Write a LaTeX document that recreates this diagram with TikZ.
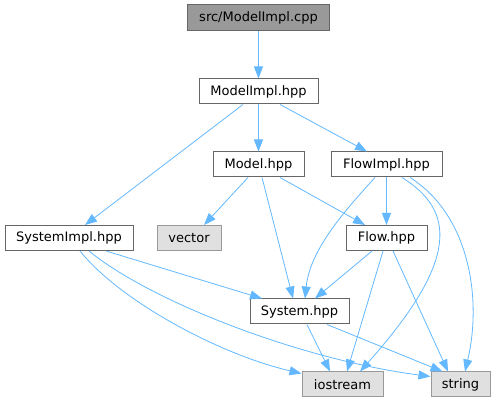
\documentclass[tikz,border=0pt]{standalone}
\usepackage{fontspec}
\setmainfont{DejaVu Sans}
\usetikzlibrary{arrows.meta}
\definecolor{edgeblue}{HTML}{63B8FF}
\definecolor{boxline}{HTML}{666666}
\definecolor{extline}{HTML}{999999}
\definecolor{rootfill}{HTML}{999999}
\definecolor{extfill}{HTML}{E0E0E0}
\tikzset{
  filebox/.style={draw=boxline, line width=1pt, fill=white, inner sep=0pt,
    minimum height=25pt, font=\fontsize{13}{15}\selectfont, text=black},
  rootbox/.style={filebox, fill=rootfill, minimum height=26pt},
  extbox/.style={filebox, draw=extline, fill=extfill},
  dep/.style={draw=edgeblue, line width=0.8pt, -{Triangle[length=12pt,width=9pt]}},
}
\begin{document}
\begin{tikzpicture}[x=1pt,y=-1pt]
\useasboundingbox (0,0) rectangle (496,403);
\node[rootbox, minimum width=142pt] (cpp) at (258.5,18) {src/ModelImpl.cpp};
\node[filebox, minimum width=119pt] (mih) at (258.5,91.5) {ModelImpl.hpp};
\node[filebox, minimum width=91pt] (mh) at (258.5,164.5) {Model.hpp};
\node[filebox, minimum width=111pt] (fih) at (386.5,164.5) {FlowImpl.hpp};
\node[filebox, minimum width=128pt] (sih) at (69,238) {SystemImpl.hpp};
\node[extbox, minimum width=64pt] (vec) at (189,238) {vector};
\node[filebox, minimum width=81pt] (fh) at (386.5,238) {Flow.hpp};
\node[filebox, minimum width=99pt] (sh) at (299.5,311.5) {System.hpp};
\node[extbox, minimum width=81pt] (io) at (342.5,384.5) {iostream};
\node[extbox, minimum width=59pt] (str) at (460.5,384.5) {string};

% edges
\draw[dep] (cpp.south) -- (mih.north);
\draw[dep] ([xshift=-15.5pt]mih.south) -- ([xshift=16pt]sih.north);
\draw[dep] (mih.south) -- (mh.north);
\draw[dep] ([xshift=21.5pt]mih.south) -- ([xshift=-19.5pt]fih.north);
\draw[dep] ([xshift=-10.5pt]mh.south) -- ([xshift=15pt]vec.north);
\draw[dep] ([xshift=3.5pt]mh.south) -- ([xshift=-6.5pt]sh.north);
\draw[dep] ([xshift=21.5pt]mh.south) -- ([xshift=-21.5pt]fh.north);
\draw[dep] (fih.south) -- (fh.north);
\draw[dep] ([xshift=-11.5pt]fih.south) .. controls +(-30,33) and +(5,-49) .. ([xshift=5.5pt]sh.north);
\draw[dep] ([xshift=15.5pt]fih.south) .. controls +(53,33) and +(100,-112) .. ([xshift=17.5pt]io.north);
\draw[dep] ([xshift=23.5pt]fih.south) .. controls +(60,38) and +(17,-72) .. ([xshift=4.5pt]str.north);
\draw[dep] ([xshift=-14.5pt]fh.south) -- ([xshift=15.5pt]sh.north);
\draw[dep] ([xshift=-3.5pt]fh.south) -- ([xshift=4.5pt]io.north);
\draw[dep] ([xshift=6.5pt]fh.south) -- ([xshift=-12.5pt]str.north);
\draw[dep] ([xshift=37pt]sih.south) -- ([xshift=-37.5pt]sh.north);
\draw[dep] ([xshift=11pt]sih.south) .. controls +(40,50) and +(-82,-19) .. ([yshift=-2pt]io.north west);
\draw[dep] ([xshift=20pt]sih.south) .. controls +(61,50) and +(-131,-17) .. ([yshift=-5pt]str.north west);
\draw[dep] ([xshift=7.5pt]sh.south) -- ([xshift=-12.5pt]io.north);
\draw[dep] ([xshift=27.5pt]sh.south) -- ([xshift=-18pt]str.north);
\end{tikzpicture}
\end{document}
